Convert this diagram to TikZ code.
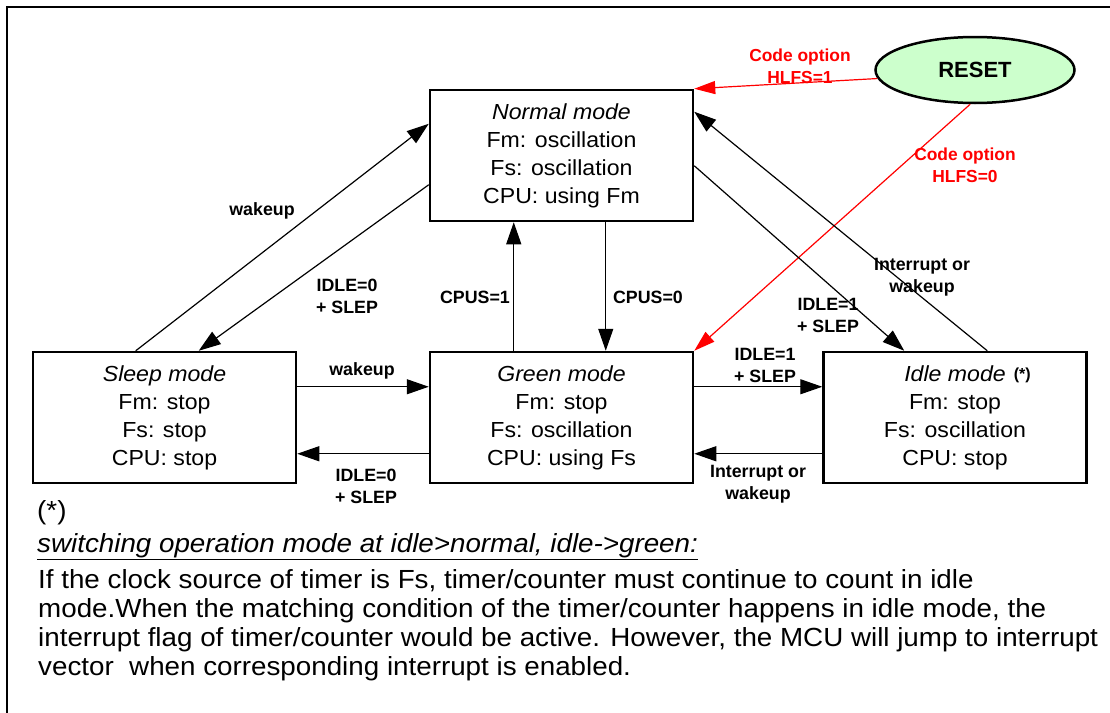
\documentclass[tikz,border=0pt]{standalone}
\usepackage{fontspec}
\setmainfont{Liberation Sans}[FakeStretch=1.06]
\newfontfamily\lblfont{Liberation Sans}
\usetikzlibrary{arrows.meta,shapes.geometric}
\definecolor{resetgreen}{RGB}{204,255,204}
\begin{document}
\begin{tikzpicture}[x=1pt,y=-1pt,
  modebox/.style={draw, line width=2.5pt, minimum width=263pt, minimum height=131pt, inner sep=0pt, align=center, font=\fontsize{21.8}{28}\selectfont},
  lbl/.style={inner sep=0pt, align=center, font=\lblfont\fontsize{17.8}{22}\selectfont\bfseries},
  redlbl/.style={lbl, text=red, font=\lblfont\fontsize{17.4}{22}\selectfont\bfseries},
  conn/.style={line width=1.2pt, -{Triangle[length=22pt,width=15pt]}},
  redconn/.style={line width=1.2pt, draw=red, -{Triangle[length=21pt,width=13pt]}},
  bodytext/.style={inner sep=0pt, align=left, font=\fontsize{26.2}{29.2}\selectfont}
]
\useasboundingbox (0,0) rectangle (1110,712);
% outer frame
\draw[line width=2.5pt] (7,714) -- (7,7) -- (1112,7);

% mode boxes
\node[modebox] (normal) at (561.5,155.5) {\textit{Normal mode}\\Fm: oscillation\\Fs: oscillation\\CPU: using Fm};
\node[modebox] (sleep) at (164.5,417.5) {\textit{Sleep mode}\\Fm: stop\\Fs: stop\\CPU: stop};
\node[modebox] (green) at (561.5,417.5) {\textit{Green mode}\\Fm: stop\\Fs: oscillation\\CPU: using Fs};
\node[modebox] (idle) at (955,417.5) {\textit{Idle mode}\rlap{\hspace{8pt}\raisebox{2pt}{\lblfont\fontsize{16}{16}\selectfont\bfseries(*)}}\\Fm: stop\\Fs: oscillation\\CPU: stop};

% reset
\node[ellipse, draw, line width=2.5pt, fill=resetgreen, minimum width=199pt, minimum height=66pt, inner sep=0pt, font=\lblfont\fontsize{22}{24}\selectfont\bfseries] (reset) at (975,70) {RESET};

% red connectors
\draw[redconn] (reset.185) -- (normal.north east);
\draw[redconn] (reset.262) -- (green.north east);
\node[redlbl] (lhlfs1) at (800,66) {Code option\\HLFS=1};
\node[redlbl] (lhlfs0) at (965,165) {Code option\\HLFS=0};

% diagonal connectors
\draw[conn] ([xshift=104pt]sleep.north west) -- ([yshift=-35pt]normal.north west);
\node[lbl] (lwake1) at (262,211) {wakeup};
\draw[conn] ([yshift=-96pt]normal.north west) -- ([xshift=167pt]sleep.north west);
\node[lbl] (lidle0a) at (347,296) {IDLE=0\\+ SLEP};

\draw[conn] ([yshift=-77pt]normal.north east) -- ([xshift=82pt]idle.north west);
\node[lbl] (lidle1a) at (828,315) {IDLE=1\\+ SLEP};
\draw[conn] ([xshift=165pt]idle.north west) -- ([yshift=-23pt]normal.north east);
\node[lbl] (lint1) at (922,277) {Interrupt or\\wakeup};

% vertical connectors
\draw[conn] ([xshift=85pt]green.north west) -- ([xshift=85pt]normal.south west);
\node[lbl] (lcpus1) at (475,297) {CPUS=1};
\draw[conn] ([xshift=177pt]normal.south west) -- ([xshift=177pt]green.north west);
\node[lbl] (lcpus0) at (648,297) {CPUS=0};

% horizontal connectors
\draw[conn] ([yshift=-36pt]sleep.north east) -- ([yshift=-36pt]green.north west);
\node[lbl] (lwake2) at (362,371) {wakeup};
\draw[conn] ([yshift=-103pt]green.north west) -- ([yshift=-103pt]sleep.north east);
\node[lbl] (lidle0b) at (366,486) {IDLE=0\\+ SLEP};
\draw[conn] ([yshift=-36pt]green.north east) -- ([yshift=-36pt]idle.north west);
\node[lbl] (lidle1b) at (765,365) {IDLE=1\\+ SLEP};
\draw[conn] ([yshift=-103pt]idle.north west) -- ([yshift=-103pt]green.north east);
\node[lbl] (lint2) at (758,484) {Interrupt or\\wakeup};

% footnote text
\node[bodytext, anchor=west] (star) at (37,513) {(*)};
\node[bodytext, anchor=west] (switch) at (37,547) {\underline{\textit{switching operation mode at idle>normal, idle->green:}}};
\node[bodytext, anchor=north west] (para) at (38,569) {If the clock source of timer is Fs, timer/counter must continue to count in idle\\
mode.When the matching condition of the timer/counter happens in idle mode, the\\
interrupt flag of timer/counter would be active. However, the MCU will jump to interrupt\\
vector\ \ when corresponding interrupt is enabled.};
\end{tikzpicture}
\end{document}
